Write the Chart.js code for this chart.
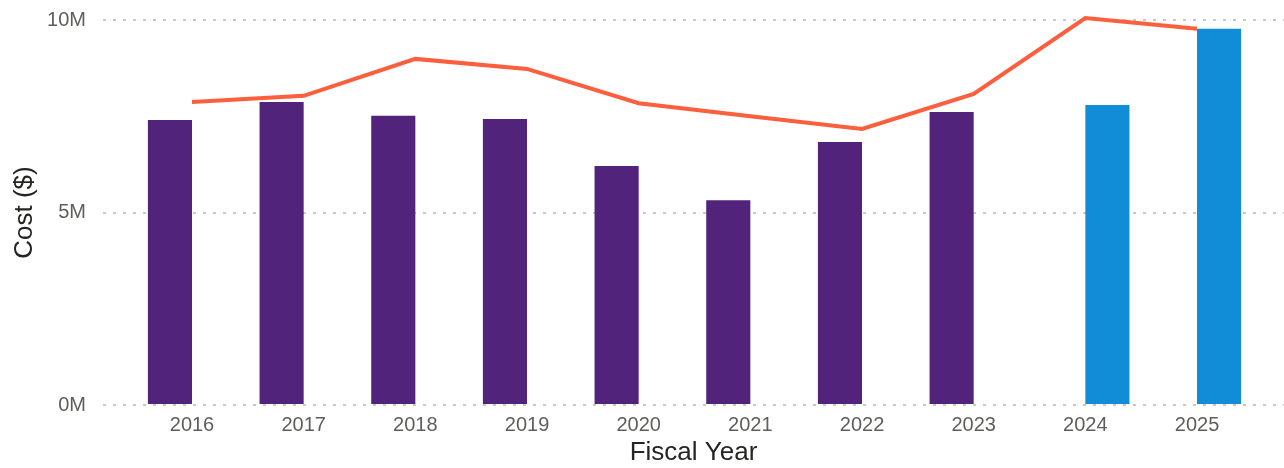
<!DOCTYPE html>
<html>
<head>
<meta charset="utf-8">
<script src="https://cdn.jsdelivr.net/npm/chart.js@4"></script>
<style>
  html, body { margin: 0; padding: 0; background: #fff; }
  #wrap { width: 1284px; height: 468px; position: relative; }
</style>
</head>
<body>
<div id="wrap"><canvas id="costChart"></canvas></div>
<script>
const years = ['2016', '2017', '2018', '2019', '2020', '2021', '2022', '2023', '2024', '2025'];
// purple bars (actuals), blue bars (forecast), orange line (budget)
const actualCost = [7.40, 7.87, 7.51, 7.43, 6.21, 5.32, 6.83, 7.61, null, null];
const forecastCost = [null, null, null, null, null, null, null, null, 7.79, 9.77];
const budgetCost = [7.87, 8.03, 8.99, 8.73, 7.84, 7.50, 7.17, 8.08, 10.05, 9.77];
const yTicks = [0, 5, 10];

const toPoints = arr => arr.map((v, i) => ({ x: i, y: v == null ? null : v * 1e6 }));

const tickColor = '#605E5C';
const gridColor = '#C8C8C8';
const fontFamily = 'Liberation Sans, Arial, sans-serif';

new Chart(document.getElementById('costChart').getContext('2d'), {
    data: {
        datasets: [
            {
                type: 'line',
                data: toPoints(budgetCost),
                borderColor: '#FD5E3D',
                borderWidth: 4,
                pointRadius: 0,
                tension: 0,
                clip: false,
                order: 0
            },
            {
                type: 'bar',
                data: toPoints(actualCost),
                backgroundColor: '#51237A',
                categoryPercentage: 0.79,
                barPercentage: 1,
                order: 1
            },
            {
                type: 'bar',
                data: toPoints(forecastCost),
                backgroundColor: '#118DD7',
                categoryPercentage: 0.79,
                barPercentage: 1,
                order: 1
            }
        ]
    },
    options: {
        responsive: true,
        maintainAspectRatio: false,
        animation: false,
        layout: { padding: { top: 20, right: 0, left: 0, bottom: 0 } },
        plugins: {
            legend: { display: false },
            tooltip: { enabled: false }
        },
        scales: {
            x: {
                type: 'linear',
                min: -0.797,
                max: 9.779,
                offset: false,
                border: { display: false },
                grid: { display: false, drawTicks: false },
                afterBuildTicks: s => { s.ticks = years.map((y, i) => ({ value: i })); },
                afterFit: s => { s.height = 63; s.paddingLeft = 0; s.paddingRight = 0; },
                ticks: {
                    callback: v => years[v],
                    color: tickColor,
                    font: { family: fontFamily, size: 20 },
                    padding: 8,
                    maxRotation: 0,
                    autoSkip: false
                },
                title: {
                    display: true,
                    text: 'Fiscal Year',
                    color: '#252423',
                    font: { family: fontFamily, size: 26 },
                    padding: { top: 0, bottom: 0 }
                }
            },
            y: {
                min: 0,
                max: 10e6,
                afterBuildTicks: s => { s.ticks = yTicks.map(v => ({ value: v * 1e6 })); },
                afterFit: s => { s.width = 103; s.paddingTop = 0; s.paddingBottom = 0; },
                grid: {
                    color: gridColor,
                    lineWidth: 2,
                    drawTicks: false
                },
                border: { display: false, dash: [3, 7] },
                ticks: {
                    callback: v => (v / 1e6) + 'M',
                    color: tickColor,
                    font: { family: fontFamily, size: 20 },
                    padding: 17
                },
                title: {
                    display: true,
                    text: 'Cost ($)',
                    color: '#252423',
                    font: { family: fontFamily, size: 26 },
                    padding: { top: 9, bottom: 0 }
                }
            }
        }
    }
});
</script>
</body>
</html>
